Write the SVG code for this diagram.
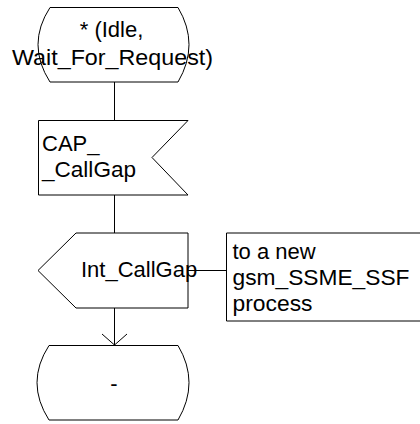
<svg xmlns="http://www.w3.org/2000/svg" width="420" height="424" viewBox="0 0 420 424">
<style>
.s{fill:#fff;stroke:#000;stroke-width:1}
.c{fill:none;stroke:#000;stroke-width:1}
text{font-family:"Liberation Sans",Arial,sans-serif;font-size:22px;fill:#000}
</style>
<rect width="420" height="424" fill="#fff"/>
<g id="connectors">
<path class="c" d="M114.5,82 V120"/>
<path class="c" d="M114.5,195 V233"/>
<path class="c" d="M188,270.5 H226.5"/>
<path class="c" d="M114.5,308 V345"/>
<path class="c" d="M102,334 L114.5,345 L127,334"/>
</g>
<g id="state_top">
<path class="s" d="M50,7.5 H178 Q200,44.5 178,82 H50 Q26,44.5 50,7.5 Z"/>
<text x="111.5" y="37" text-anchor="middle">* (Idle,</text>
<text x="112.5" y="65" text-anchor="middle" textLength="201" lengthAdjust="spacingAndGlyphs">Wait_For_Request)</text>
</g>
<g id="input_cap_callgap">
<path class="s" d="M38.5,120.5 H188 L152,157.5 L188,195 H38.5 Z"/>
<text x="42" y="151">CAP_</text>
<text x="42" y="177" textLength="94" lengthAdjust="spacingAndGlyphs">_CallGap</text>
</g>
<g id="output_int_callgap">
<path class="s" d="M76,233 H188 V308 H76 L38,270.5 Z"/>
<text x="81" y="277">Int_CallGap</text>
</g>
<g id="comment">
<path class="c" d="M430,233 H226.5 V321 H430"/>
<text x="232.5" y="259">to a new</text>
<text x="232.5" y="285" textLength="177" lengthAdjust="spacingAndGlyphs">gsm_SSME_SSF</text>
<text x="232.5" y="311" textLength="80" lengthAdjust="spacingAndGlyphs">process</text>
</g>
<g id="state_bottom">
<path class="s" d="M49,345.5 H178 Q200,382.5 178,420 H49 Q25,382.5 49,345.5 Z"/>
<text x="114" y="391" text-anchor="middle">-</text>
</g>
</svg>
